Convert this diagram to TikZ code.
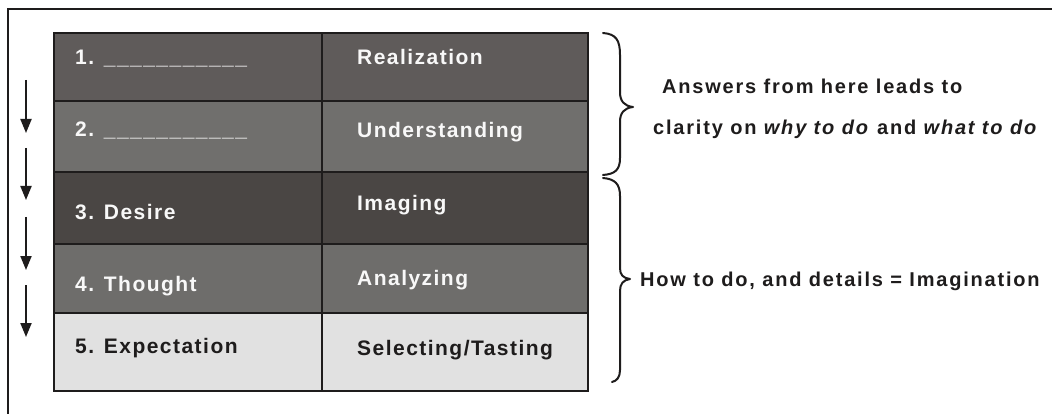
\documentclass[tikz,border=0pt]{standalone}
\usepackage{fontspec}
\setmainfont{Liberation Sans}
\newfontfamily\tabfont{Liberation Sans}[LetterSpace=7]
\newfontfamily\sidefont{Liberation Sans}[LetterSpace=9]
\usetikzlibrary{arrows.meta}
\definecolor{rowA}{HTML}{5F5B5A}
\definecolor{rowB}{HTML}{706F6D}
\definecolor{rowC}{HTML}{4A4644}
\definecolor{rowD}{HTML}{6E6D6B}
\definecolor{rowE}{HTML}{E1E1E1}
\definecolor{ink}{HTML}{1E1C1C}
\definecolor{light}{HTML}{F8F8F8}
\begin{document}
\begin{tikzpicture}[x=1pt,y=-1pt,
  cell/.style={draw=ink,line width=2pt,rectangle,inner sep=0pt,outer sep=0pt,anchor=north west},
  tl/.style={anchor=base west,inner sep=0pt,text=light,font=\tabfont\bfseries\fontsize{21}{25}\selectfont},
  tdark/.style={tl,text=ink},
  sl/.style={anchor=base west,inner sep=0pt,text=ink,font=\sidefont\bfseries\fontsize{20}{24}\selectfont},
  frame/.style={draw=ink,line width=2pt},
  brace/.style={draw=ink,line width=2pt,line cap=round,line join=round},
  arr/.style={draw=ink,line width=2pt,-{Triangle[width=11pt,length=14pt]}}]
\useasboundingbox (0,0) rectangle (1052,414);
\fill[white] (0,0) rectangle (1052,414);
% frame
\draw[frame] (1053,9) -- (8,9) -- (8,415);
% cells
\node[cell,fill=rowA,minimum width=268pt,minimum height=68pt] (c11) at (54,33) {};
\node[cell,fill=rowA,minimum width=266pt,minimum height=68pt] (c12) at (322,33) {};
\node[cell,fill=rowB,minimum width=268pt,minimum height=71pt] (c21) at (54,101) {};
\node[cell,fill=rowB,minimum width=266pt,minimum height=71pt] (c22) at (322,101) {};
\node[cell,fill=rowC,minimum width=268pt,minimum height=72pt] (c31) at (54,172) {};
\node[cell,fill=rowC,minimum width=266pt,minimum height=72pt] (c32) at (322,172) {};
\node[cell,fill=rowD,minimum width=268pt,minimum height=69pt] (c41) at (54,244) {};
\node[cell,fill=rowD,minimum width=266pt,minimum height=69pt] (c42) at (322,244) {};
\node[cell,fill=rowE,minimum width=268pt,minimum height=78pt] (c51) at (54,313) {};
\node[cell,fill=rowE,minimum width=266pt,minimum height=78pt] (c52) at (322,313) {};
% labels
\node[tl] (t11) at (75,65) {1. \_\_\_\_\_\_\_\_\_\_\_};
\node[tl] (t12) at (357,65) {Realization};
\node[tl] (t21) at (75,137) {2. \_\_\_\_\_\_\_\_\_\_\_};
\node[tl] (t22) at (357,138) {Understanding};
\node[tl] (t31) at (75,220) {3. Desire};
\node[tl] (t32) at (357,211) {Imaging};
\node[tl] (t41) at (75,291) {4. Thought};
\node[tl] (t42) at (357,285) {Analyzing};
\node[tdark] (t51) at (75,353) {5. Expectation};
\node[tdark] (t52) at (357,355) {Selecting/Tasting};
% arrows
\coordinate (a1s) at (26,80);  \coordinate (a1e) at (26,133);
\coordinate (a2s) at (26,148); \coordinate (a2e) at (26,200);
\coordinate (a3s) at (26,217); \coordinate (a3e) at (26,270);
\coordinate (a4s) at (26,285); \coordinate (a4e) at (26,337);
\draw[arr] (a1s) -- (a1e);
\draw[arr] (a2s) -- (a2e);
\draw[arr] (a3s) -- (a3e);
\draw[arr] (a4s) -- (a4e);
% braces
\draw[brace] (603,33) .. controls (616,34) and (620,40) .. (620,55) -- (620,92)
  .. controls (620,101) and (624,106) .. (633,107)
  .. controls (624,108) and (620,113) .. (620,122) -- (620,158)
  .. controls (620,170) and (615,174) .. (603,175);
\draw[brace] (603,178) .. controls (615,179) and (620,184) .. (620,196) -- (620,268)
  .. controls (620,275) and (623,278) .. (630,279)
  .. controls (623,280) and (620,284) .. (620,291) -- (620,370)
  .. controls (620,377) and (617,381) .. (612,382);
% side texts
\node[sl] (s1) at (662,94) {Answers from here leads to};
\node[sl] (s2) at (653,135) {clarity on \textit{why to do} and \textit{what to do}};
\node[sl] (s3) at (640,286) {How to do, and details = Imagination};
\end{tikzpicture}
\end{document}
